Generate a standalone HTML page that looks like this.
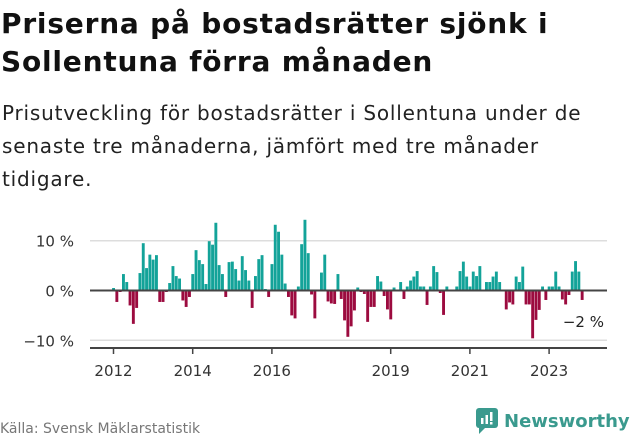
<!DOCTYPE html>
<html><head><meta charset="utf-8"><style>
body{margin:0;width:631px;height:439px;background:#fff;font-family:"DejaVu Sans","Liberation Sans",sans-serif;overflow:hidden;position:relative}
h1{position:absolute;left:1px;top:5px;margin:0;font-size:28px;line-height:38px;font-weight:bold;color:#111;width:640px;letter-spacing:0.8px;white-space:nowrap}
.sub{position:absolute;left:2px;top:97px;margin:0;font-size:20px;line-height:33px;color:#222;width:640px;letter-spacing:0.8px;white-space:nowrap}
.src{position:absolute;left:0;top:421px;font-size:14px;color:#777}
.logo{position:absolute;left:476px;top:408px;font-size:18px;color:#3a9a8e;font-weight:bold;white-space:nowrap;display:flex;align-items:center}
</style></head><body>
<h1>Priserna på bostadsrätter sjönk i<br>Sollentuna förra månaden</h1>
<p class="sub">Prisutveckling för bostadsrätter i Sollentuna under de<br>senaste tre månaderna, jämfört med tre månader<br>tidigare.</p>
<svg id="chart" width="631" height="439" style="position:absolute;left:0;top:0"></svg>
<div class="src">Källa: Svensk Mäklarstatistik</div>
<div class="logo"><svg width="22" height="26" style="margin-right:6px"><rect x="0" y="0" width="22" height="20" rx="3" fill="#3a9a8e"/><path d="M3 20 L3 26 L9 20Z" fill="#3a9a8e"/><rect x="5" y="10" width="2.5" height="6" fill="#fff"/><rect x="9.5" y="7" width="2.5" height="9" fill="#fff"/><rect x="14" y="4" width="2.5" height="9" fill="#fff"/><rect x="14" y="14" width="2.5" height="2.5" fill="#fff"/></svg><span>Newsworthy</span></div>
<script>
const values=[0.5,-2.3,-0.3,3.3,1.7,-3,-6.7,-3.5,3.5,9.5,4.5,7.2,6.2,7.1,-2.3,-2.3,-0.3,1.5,4.9,2.9,2.4,-2,-3.3,-1.3,3.3,8.1,6.1,5.3,1.3,9.9,9.2,13.6,5.1,3.3,-1.3,5.7,5.8,4.3,2,6.9,4.1,2,-3.5,2.9,6.3,7.1,0.3,-1.3,
5.3,13.2,11.8,7.2,1.4,-1.3,-5,-5.6,0.8,9.3,14.2,7.5,-0.8,-5.6,0,3.6,7.2,-2.2,-2.6,-2.7,3.3,-1.7,-6,-9.3,-7.2,-4,0.6,-0.3,-0.7,-6.3,-3.3,-3.3,2.9,1.8,-1.1,-3.8,-5.8,0.6,0,1.7,-1.7,0.8,2,2.8,3.9,0.8,0.8,-2.9,0.8,
4.9,3.7,-0.5,-4.9,0.8,0,0,0.8,3.9,5.8,2.8,0.8,3.8,2.9,4.9,0,1.7,1.7,2.8,3.8,1.7,0,-3.8,-2.4,-2.8,2.8,1.7,4.8,-2.8,-2.8,-9.6,-5.9,-3.9,0.8,-1.9,0.8,0.8,3.8,0.8,-1.8,-2.8,-0.9,3.8,5.9,3.8,-1.9];
const startYear=2012;
const yTicks=[10,0,-10];
const yTickLabels=["10 %","0 %","\u221210 %"];
const xTicks=[2012,2014,2016,2019,2021,2023];
const lastLabel="\u22122 %";
const NS="http://www.w3.org/2000/svg";
const svg=document.getElementById('chart');
const y=v=>290.5-v*4.98;
const x=yr=>113.5+(yr-2012)*39.6;
const xm=i=>x(startYear+i/12);
function mk(t,a){const e=document.createElementNS(NS,t);for(const k in a)e.setAttribute(k,a[k]);svg.appendChild(e);return e;}
yTicks.forEach((t,i)=>{
 const g=mk('line',{x1:90,x2:607,y1:y(t),y2:y(t),stroke:t===0?'#444':'#ddd','stroke-width':t===0?2:1.5});
 
 
 const l=mk('text',{x:74,y:y(t)+6,'text-anchor':'end','font-size':15,fill:'#333','font-family':'DejaVu Sans, sans-serif'});
 l.textContent=yTickLabels[i];
 
 
});
values.forEach((v,i)=>{
 const r=mk('rect',{x:xm(i)-1.4,width:2.9,y:Math.min(y(v),y(0)),height:Math.max(Math.abs(y(v)-y(0)),0.01),fill:v>=0?'#13a399':'#9c0b3f'});
 
 
});
const z=mk('line',{x1:90,x2:607,y1:y(0),y2:y(0),stroke:'#444','stroke-width':2});


const ax=mk('line',{x1:90,x2:607,y1:348,y2:348,stroke:'#444','stroke-width':2});


xTicks.forEach(t=>{
 const tk=mk('line',{x1:x(t),x2:x(t),y1:348,y2:354,stroke:'#444','stroke-width':1.5});
 
 
 const l=mk('text',{x:x(t),y:376,'text-anchor':'middle','font-size':15,fill:'#333','font-family':'DejaVu Sans, sans-serif'});
 l.textContent=t;
 
 
});
const ll=mk('text',{x:604,y:327,'text-anchor':'end','font-size':15,fill:'#222','font-family':'DejaVu Sans, sans-serif'});
ll.textContent=lastLabel;


</script>
</body></html>
